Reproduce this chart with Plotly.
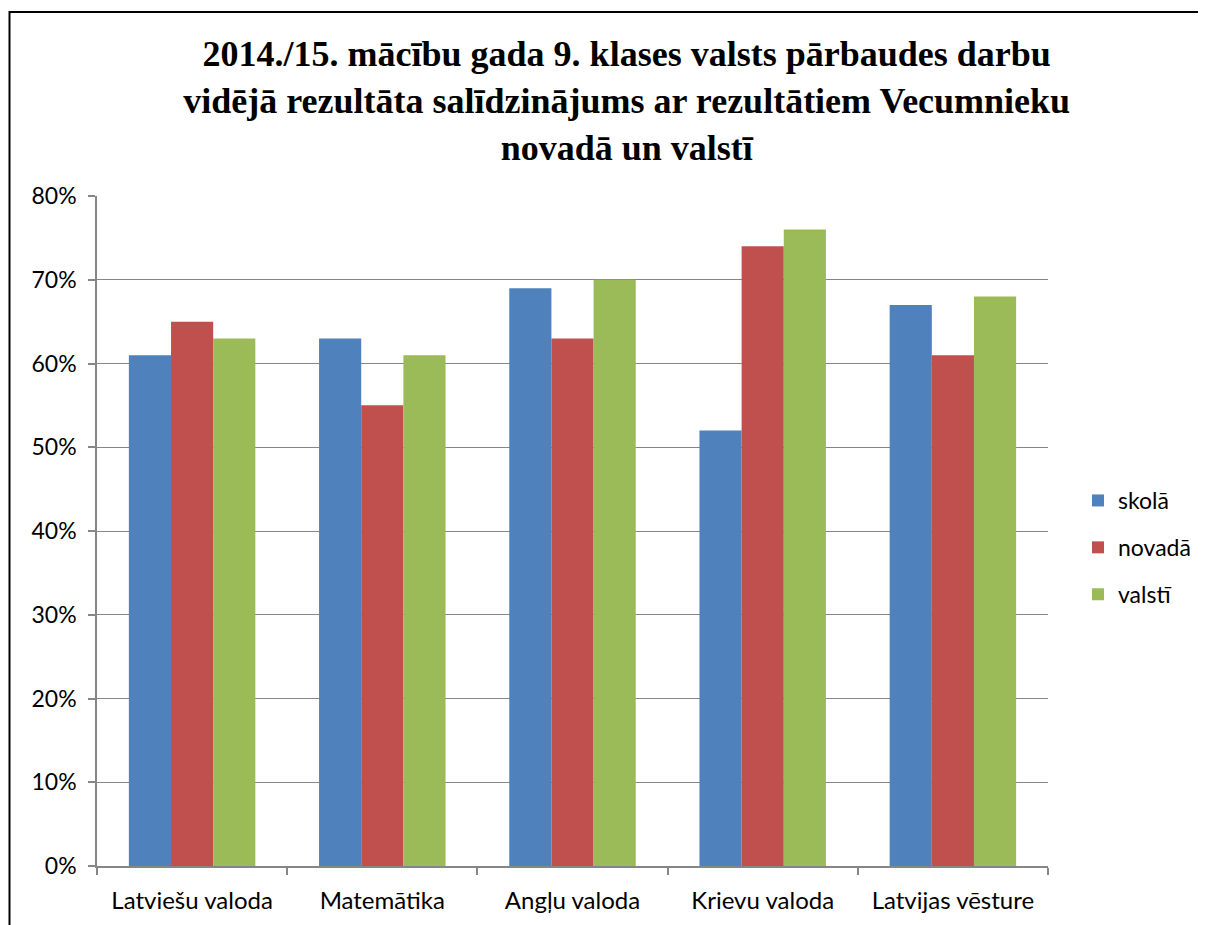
import plotly.graph_objects as go

categories = ["Latviešu valoda", "Matemātika", "Angļu valoda", "Krievu valoda", "Latvijas vēsture"]
skola = [0.61, 0.63, 0.69, 0.52, 0.67]
novada = [0.65, 0.55, 0.63, 0.74, 0.61]
valsti = [0.63, 0.61, 0.70, 0.76, 0.68]
series_names = ["skolā", "novadā", "valstī"]
colors = ["#4F81BD", "#C0504D", "#9BBB59"]

fig = go.Figure()
for i, (name, vals) in enumerate(zip(series_names, [skola, novada, valsti])):
    fig.add_trace(go.Bar(x=categories, y=vals, name=name, marker_color=colors[i],
                         marker_line_width=0, legendgroup=name))

W, H = 1206, 925
l, t = 89, 188
plot_right, plot_bottom = 1040, 858
r, b = W - plot_right, H - plot_bottom
pw, ph = W - l - r, H - t - b

def px(x):
    return (x - l) / pw

def py(y):
    return (H - b - y) / ph

fig.update_layout(
    width=W, height=H,
    margin=dict(l=l, r=r, t=t, b=b),
    paper_bgcolor="white", plot_bgcolor="white",
    barmode="group", bargap=0.335, bargroupgap=0,
    title=dict(
        text="<b>2014./15. mācību gada 9. klases valsts pārbaudes darbu<br>vidējā rezultāta salīdzinājums ar rezultātiem Vecumnieku<br>novadā un valstī</b>",
        font=dict(family="Liberation Serif", size=36, color="black"),
        x=0.513, xanchor="center", xref="container",
        y=0.937, yanchor="top", yref="container",
    ),
    font=dict(family="Lato", size=23, color="black"),
    showlegend=True,
    legend=dict(x=px(1070), y=py(471), xanchor="left", yanchor="top",
                font=dict(size=23), tracegroupgap=14, bgcolor="rgba(0,0,0,0)"),
    xaxis=dict(showline=True, linecolor="#868686", linewidth=1.5,
               ticks="outside", tickson="boundaries", ticklen=7, tickcolor="#868686",
               tickwidth=1.5, showgrid=False, tickfont=dict(size=24),
               ticklabelstandoff=12),
    yaxis=dict(range=[0, 0.8], tickvals=[0, 0.1, 0.2, 0.3, 0.4, 0.5, 0.6, 0.7, 0.8],
               tickformat=".0%", showline=True, linecolor="#868686", linewidth=1.5,
               ticks="outside", ticklen=7, tickcolor="#868686", tickwidth=1.5,
               showgrid=True, gridcolor="#868686", gridwidth=1.2,
               zeroline=False, tickfont=dict(size=23), ticklabelstandoff=7),
    shapes=[dict(type="rect", xref="paper", yref="paper",
                 x0=px(1.5), x1=px(1230), y0=py(940), y1=py(4),
                 line=dict(color="black", width=2), fillcolor="rgba(0,0,0,0)", layer="above")],
)

fig.write_html("out.html")
